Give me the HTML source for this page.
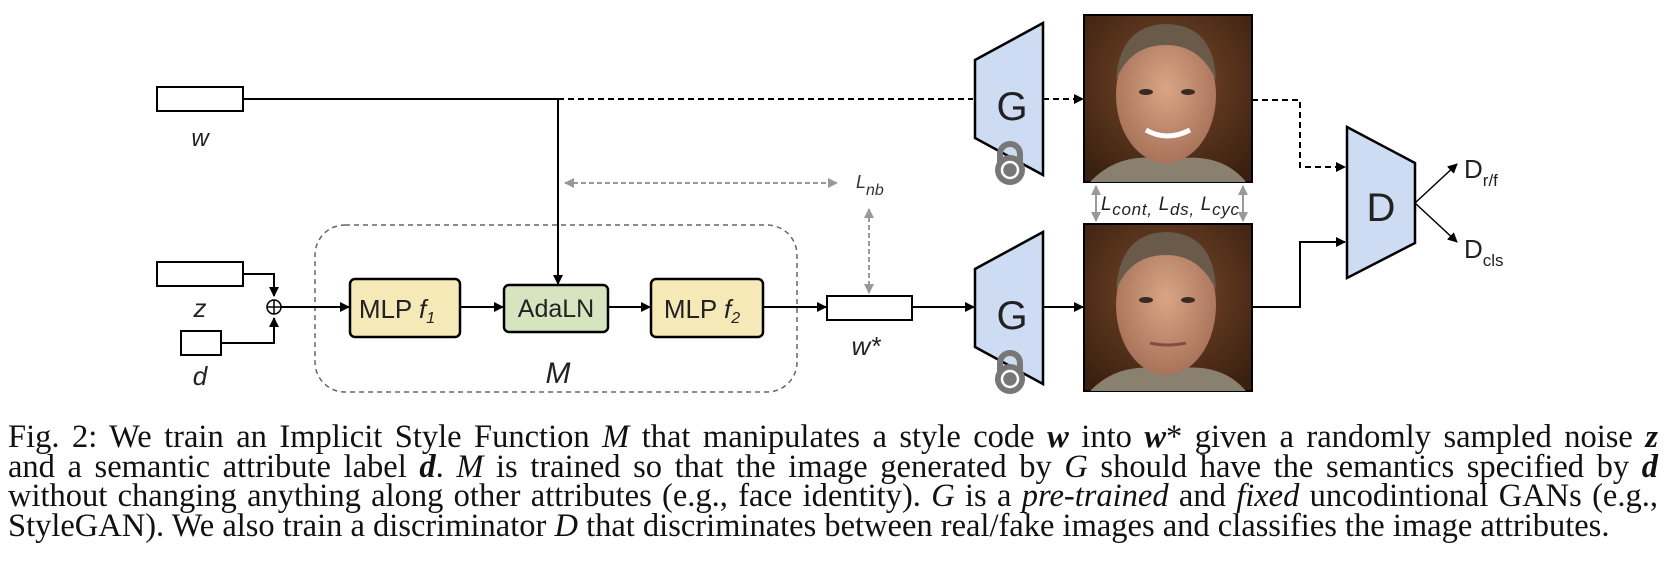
<!DOCTYPE html>
<html><head><meta charset="utf-8"><style>
html,body{margin:0;padding:0;background:#fff;width:1666px;height:576px;overflow:hidden}
.cap{position:absolute;left:8px;width:1650px;font-family:"Liberation Serif",serif;font-size:32.5px;line-height:29.6px;color:#111}
.l{text-align:justify;text-align-last:justify;white-space:nowrap;height:29.6px}
.l4{text-align:left;text-align-last:left}
i{font-style:italic}
</style></head><body>
<svg width="1666" height="576" style="position:absolute;left:0;top:0" font-family="Liberation Sans, sans-serif">
<defs>
<marker id="a" markerWidth="10" markerHeight="10" refX="9" refY="5" orient="auto" markerUnits="userSpaceOnUse"><path d="M0,0 L10,5 L0,10 z" fill="#000"/></marker>
<marker id="g" markerWidth="10" markerHeight="10" refX="9" refY="5" orient="auto-start-reverse" markerUnits="userSpaceOnUse"><path d="M0,0 L10,5 L0,10 z" fill="#999"/></marker>
<radialGradient id="bg" cx="50%" cy="40%" r="70%"><stop offset="0" stop-color="#7a4a2a"/><stop offset="1" stop-color="#3a2010"/></radialGradient>
<radialGradient id="sk" cx="50%" cy="45%" r="55%"><stop offset="0" stop-color="#d9a585"/><stop offset="1" stop-color="#a8735a"/></radialGradient>
</defs>
<rect x="157" y="87" width="86" height="24" fill="#fff" stroke="#000" stroke-width="2"/>
<text x="200" y="146" font-size="24" font-style="italic" text-anchor="middle" fill="#222">w</text>
<line x1="243" y1="99" x2="558" y2="99" stroke="#000" stroke-width="2"/>
<line x1="558" y1="99" x2="973" y2="99" stroke="#000" stroke-width="2" stroke-dasharray="6,4"/>
<line x1="558" y1="99" x2="558" y2="284" stroke="#000" stroke-width="2" marker-end="url(#a)"/>
<line x1="565" y1="183" x2="837" y2="183" stroke="#999" stroke-width="2" stroke-dasharray="5,3" marker-start="url(#g)" marker-end="url(#g)"/>
<text x="856" y="188" font-size="18" font-style="italic" fill="#333">L<tspan font-size="16" dy="7">nb</tspan></text>
<line x1="869" y1="209" x2="869" y2="293" stroke="#999" stroke-width="2" stroke-dasharray="5,3" marker-start="url(#g)" marker-end="url(#g)"/>
<rect x="315" y="225" width="482" height="167" rx="30" fill="none" stroke="#666" stroke-width="1.5" stroke-dasharray="5,4"/>
<text x="558" y="383" font-size="30" font-style="italic" text-anchor="middle" fill="#222">M</text>
<rect x="157" y="262" width="86" height="24" fill="#fff" stroke="#000" stroke-width="2"/>
<text x="200" y="317" font-size="26" font-style="italic" text-anchor="middle" fill="#222">z</text>
<rect x="181" y="331" width="40" height="24" fill="#fff" stroke="#000" stroke-width="2"/>
<text x="200" y="385" font-size="26" font-style="italic" text-anchor="middle" fill="#222">d</text>
<polyline points="243,274 274,274 274,296" fill="none" stroke="#000" stroke-width="2" marker-end="url(#a)"/>
<polyline points="221,343 274,343 274,318" fill="none" stroke="#000" stroke-width="2" marker-end="url(#a)"/>
<circle cx="274" cy="307" r="7" fill="#fff" stroke="#000" stroke-width="1.5"/>
<line x1="267" y1="307" x2="281" y2="307" stroke="#000" stroke-width="1.5"/><line x1="274" y1="300" x2="274" y2="314" stroke="#000" stroke-width="1.5"/>
<line x1="281" y1="307" x2="349" y2="307" stroke="#000" stroke-width="2" marker-end="url(#a)"/>
<rect x="350" y="279" width="110" height="58" rx="5" fill="#f5e9b8" stroke="#000" stroke-width="2.5"/>
<text x="397" y="318" font-size="26" text-anchor="middle" fill="#222">MLP <tspan font-style="italic">f</tspan><tspan font-size="16" font-style="italic" dy="5">1</tspan></text>
<line x1="460" y1="307" x2="503" y2="307" stroke="#000" stroke-width="2" marker-end="url(#a)"/>
<rect x="504" y="285" width="104" height="47" rx="5" fill="#d6e5c0" stroke="#000" stroke-width="2.5"/>
<text x="556" y="317" font-size="25" text-anchor="middle" fill="#222">AdaLN</text>
<line x1="608" y1="307" x2="650" y2="307" stroke="#000" stroke-width="2" marker-end="url(#a)"/>
<rect x="651" y="279" width="112" height="58" rx="5" fill="#f5e9b8" stroke="#000" stroke-width="2.5"/>
<text x="702" y="318" font-size="26" text-anchor="middle" fill="#222">MLP <tspan font-style="italic">f</tspan><tspan font-size="16" font-style="italic" dy="5">2</tspan></text>
<line x1="763" y1="307" x2="826" y2="307" stroke="#000" stroke-width="2" marker-end="url(#a)"/>
<rect x="827" y="296" width="85" height="24" fill="#fff" stroke="#000" stroke-width="2"/>
<text x="866" y="355" font-size="26" font-style="italic" text-anchor="middle" fill="#222">w*</text>
<line x1="912" y1="307" x2="974" y2="307" stroke="#000" stroke-width="2" marker-end="url(#a)"/>
<polygon points="975,60 1043,23 1043,175 975,138" fill="#cddcf2" stroke="#000" stroke-width="2.5"/>
<text x="1012" y="120" font-size="40" text-anchor="middle" fill="#222">G</text>
<g transform="translate(1010,170)"><path d="M-10,-6 V-16 A10,10 0 0 1 10,-16 V-6" fill="none" stroke="#777" stroke-width="6"/><circle r="15" fill="#777"/><circle r="8" fill="#777" stroke="#fff" stroke-width="2.5"/></g>
<line x1="1043" y1="99" x2="1083" y2="99" stroke="#000" stroke-width="2" stroke-dasharray="6,4" marker-end="url(#a)"/>
<polygon points="975,269 1043,232 1043,384 975,347" fill="#cddcf2" stroke="#000" stroke-width="2.5"/>
<text x="1012" y="329" font-size="40" text-anchor="middle" fill="#222">G</text>
<g transform="translate(1010,379)"><path d="M-10,-6 V-16 A10,10 0 0 1 10,-16 V-6" fill="none" stroke="#777" stroke-width="6"/><circle r="15" fill="#777"/><circle r="8" fill="#777" stroke="#fff" stroke-width="2.5"/></g>
<line x1="1043" y1="307" x2="1083" y2="307" stroke="#000" stroke-width="2" marker-end="url(#a)"/>
<g>
<rect x="1084" y="15" width="168" height="167" fill="url(#bg)" stroke="#000" stroke-width="2"/>
<path d="M1090,182 Q1120,150 1168,160 Q1220,150 1246,182 Z" fill="#8a8070"/>
<ellipse cx="1166" cy="95" rx="50" ry="68" fill="url(#sk)"/>
<path d="M1116,80 Q1120,25 1166,24 Q1214,25 1216,80 Q1200,45 1166,45 Q1130,45 1116,80Z" fill="#6a5a4a"/>
<ellipse cx="1146" cy="92" rx="7" ry="3" fill="#3a2a20"/><ellipse cx="1188" cy="92" rx="7" ry="3" fill="#3a2a20"/>
<path d="M1146,130 Q1167,142 1190,130" stroke="#fff" stroke-width="5" fill="none"/>
</g>
<g>
<rect x="1084" y="224" width="168" height="167" fill="url(#bg)" stroke="#000" stroke-width="2"/>
<path d="M1090,391 Q1120,360 1168,370 Q1220,360 1246,391 Z" fill="#8a8070"/>
<ellipse cx="1166" cy="305" rx="50" ry="70" fill="url(#sk)"/>
<path d="M1116,290 Q1120,233 1166,232 Q1214,233 1216,290 Q1200,255 1166,255 Q1130,255 1116,290Z" fill="#6a5a4a"/>
<ellipse cx="1146" cy="300" rx="7" ry="3" fill="#3a2a20"/><ellipse cx="1188" cy="300" rx="7" ry="3" fill="#3a2a20"/>
<path d="M1150,343 Q1167,347 1186,343" stroke="#8a4a40" stroke-width="3" fill="none"/>
</g>
<line x1="1096" y1="186" x2="1096" y2="221" stroke="#999" stroke-width="2" marker-start="url(#g)" marker-end="url(#g)"/>
<line x1="1243" y1="186" x2="1243" y2="221" stroke="#999" stroke-width="2" marker-start="url(#g)" marker-end="url(#g)"/>
<text x="1101" y="210" font-size="19" font-style="italic" fill="#222" textLength="138">L<tspan font-size="17" dy="5">cont,</tspan><tspan dy="-5"> L</tspan><tspan font-size="17" dy="5">ds,</tspan><tspan dy="-5"> L</tspan><tspan font-size="17" dy="5">cyc</tspan></text>
<polyline points="1252,100 1300,100 1300,167 1345,167" fill="none" stroke="#000" stroke-width="2" stroke-dasharray="6,4" marker-end="url(#a)"/>
<polyline points="1252,307 1300,307 1300,242 1345,242" fill="none" stroke="#000" stroke-width="2" marker-end="url(#a)"/>
<polygon points="1347,127 1415,163 1415,243 1347,278" fill="#cddcf2" stroke="#000" stroke-width="2.5"/>
<text x="1381" y="221" font-size="40" text-anchor="middle" fill="#222">D</text>
<line x1="1415" y1="203" x2="1457" y2="164" stroke="#000" stroke-width="1.5" marker-end="url(#a)"/>
<line x1="1415" y1="203" x2="1457" y2="242" stroke="#000" stroke-width="1.5" marker-end="url(#a)"/>
<text x="1464" y="178" font-size="26" fill="#222">D<tspan font-size="17" dy="8">r/f</tspan></text>
<text x="1464" y="258" font-size="26" fill="#222">D<tspan font-size="17" dy="8">cls</tspan></text>
</svg>
<div class="cap" style="top:423px">
<div class="l">Fig. 2: We train an Implicit Style Function <i>M</i> that manipulates a style code <b><i>w</i></b> into <b><i>w</i></b>* given a randomly sampled noise <b><i>z</i></b></div>
<div class="l">and a semantic attribute label <b><i>d</i></b>. <i>M</i> is trained so that the image generated by <i>G</i> should have the semantics specified by <b><i>d</i></b></div>
<div class="l">without changing anything along other attributes (e.g., face identity). <i>G</i> is a <i>pre-trained</i> and <i>fixed</i> uncodintional GANs (e.g.,</div>
<div class="l l4">StyleGAN). We also train a discriminator <i>D</i> that discriminates between real/fake images and classifies the image attributes.</div>
</div>
</body></html>
